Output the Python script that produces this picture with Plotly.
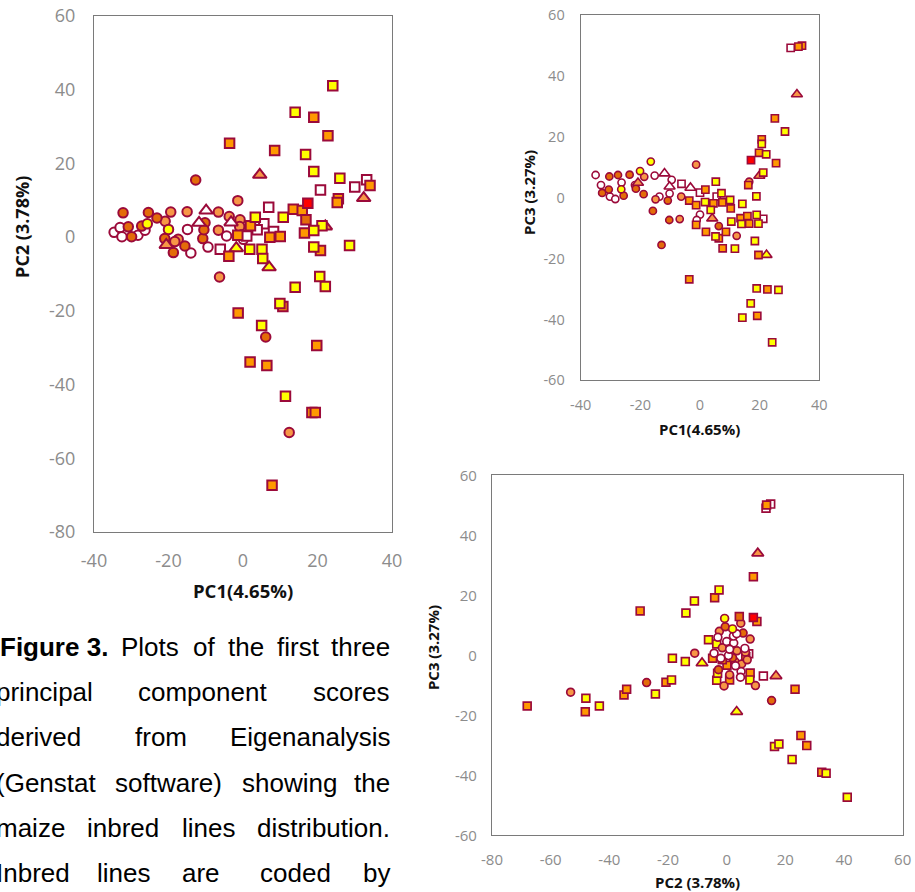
import plotly.graph_objects as go

# ---------------- DATA ----------------
# Plot 1: PC1 (x) vs PC2 (y)
p1_sq_yellow = [(24.1, 41.1), (14.0, 33.9), (16.8, 22.4), (19.0, 17.8), (26.0, 16.0), (10.8, 5.4), (3.3, 5.4),
                (21.2, 3.1), (19.0, 1.8), (1.8, -3.3), (5.1, -3.3), (5.3, -5.8), (28.6, -2.3), (19.0, -2.7),
                (20.6, -10.7), (22.1, -13.4), (14.0, -13.6), (9.9, -18.0), (5.0, -24.0), (11.4, -43.2)]
p1_sq_orange = [(-3.6, 25.5), (8.5, 23.5), (19.0, 32.5), (22.8, 27.5), (25.6, 10.4), (25.3, 9.4), (34.1, 14.0),
                (13.5, 7.6), (15.9, 7.2), (2.0, 3.1), (-1.4, 0.5), (7.2, 0.0), (10.0, 0.2), (16.5, 1.1),
                (20.8, -3.6), (-3.8, -5.2), (-1.3, -20.6), (10.7, -18.8), (1.9, -33.9), (6.4, -34.8),
                (19.8, -29.4), (18.5, -47.6), (19.4, -47.6), (7.8, -67.3)]
p1_sq_white = [(6.9, 8.1), (20.8, 12.8), (30.0, 13.6), (33.2, 15.6), (5.6, 3.6), (-6.1, -3.3), (0.6, 0.6),
               (3.8, 2.0), (8.2, 1.5), (1.0, 0.3)]
p1_sq_red = [(17.4, 9.2)]
p1_sq_dkorange = [(16.9, 4.7)]
p1_tri_orange = [(4.5, 16.9), (32.4, 10.6), (-20.6, -2.1), (22.1, 2.9)]
p1_tri_white = [(-9.9, 7.2), (-11.8, 3.9), (-3.2, 4.0)]
p1_tri_yellow = [(7.0, -8.2), (-1.8, -3.0)]
p1_ci_dark = [(-12.7, 15.5), (-32.2, 6.6), (-25.4, 6.7), (-23.1, 5.2), (-30.8, 2.8), (-29.9, 0.1), (-27.2, 3.0),
              (-21.0, -0.4), (-18.7, -4.2), (-15.6, -2.4), (-10.8, -0.4), (-10.2, 3.9), (-10.5, 2.0), (6.1, -27.1)]
p1_ci_light = [(-19.4, 6.8), (-15.0, 6.9), (-6.6, 6.8), (-1.4, 9.9), (-3.7, 5.6), (-6.6, 1.9), (-20.9, 4.3),
               (-17.4, -0.6), (-18.3, -1.2), (-6.3, -10.8), (-0.8, 4.7), (-0.9, 2.9), (12.4, -53.0)]
p1_ci_white = [(-34.6, 1.3), (-33.0, 2.6), (-32.5, 0.1), (-28.2, 0.5), (-26.3, 1.9), (-14.9, 2.1), (-14.0, -4.3),
               (-9.4, -2.7), (-4.4, 0.3), (0.1, -0.6)]
p1_ci_yellow = [(-25.7, 3.6), (-20.0, 2.1)]

# Plot 2: PC1 (x) vs PC3 (y)
p2_sq_orange = [(34.2, 50.0), (33.0, 49.7), (25.1, 26.1), (20.7, 19.2), (19.8, 14.8), (25.5, 11.4), (16.2, 4.2),
                (-3.6, -26.8), (1.8, 2.7), (-3.6, -0.9), (-1.3, -2.4), (-1.3, -8.9), (2.0, -11.2), (6.3, -13.3),
                (7.6, -16.6), (8.7, -11.2), (10.3, -3.5), (7.5, -1.5), (13.6, -6.7), (15.9, -6.0), (16.5, -8.5),
                (19.6, -18.8), (22.6, -30.1), (19.2, -38.8), (4.5, -1.8)]
p2_sq_yellow = [(28.5, 21.8), (22.2, 14.3), (21.2, 8.3), (18.9, 0.5), (5.3, 5.3), (7.2, 1.5), (10.1, -0.7),
                (14.2, -2.0), (1.7, -1.4), (3.6, -4.0), (10.5, -7.8), (19.0, -5.6), (19.6, -8.5), (13.9, -8.6),
                (11.7, -16.7), (18.4, -14.2), (19.0, -29.8), (26.3, -30.3), (17.0, -34.7), (14.2, -39.4),
                (24.2, -47.5), (5.2, -12.7), (20.7, 17.7)]
p2_sq_white = [(30.4, 49.3), (-6.2, 4.6), (0.0, 1.7), (21.2, -6.9), (5.6, 0.4)]
p2_sq_red = [(17.1, 12.4)]
p2_tri_orange = [(32.5, 34.0), (-20.8, 4.9), (4.1, -6.8), (19.9, 7.2)]
p2_tri_yellow = [(22.3, -18.8)]
p2_tri_white = [(-11.9, 8.0), (-10.2, 3.7), (-3.2, 3.3)]
p2_ci_yellow = [(-16.5, 11.9), (-20.1, 8.8), (-26.4, 2.8)]
p2_ci_light = [(-1.3, 10.9), (-6.3, 0.4), (-6.8, -7.0), (12.3, -12.5), (-18.7, 6.9), (-14.9, -0.5), (16.5, 5.3)]
p2_ci_dark = [(-12.9, -15.5), (-10.3, -7.3), (-15.8, -4.3), (-10.8, -0.9), (-23.6, 7.6), (-27.5, 7.5),
              (-30.4, 7.0), (-32.8, 1.6), (-30.6, 2.7), (-25.6, 0.7), (-18.9, 1.2), (-21.5, 3.0), (6.3, -9.3)]
p2_ci_white = [(-35.0, 7.5), (-33.2, 4.2), (-30.2, 0.4), (-28.4, -0.4), (-26.3, 5.0), (-15.2, 7.3), (-21.8, 4.2),
               (-10.2, 1.4), (-13.6, 0.4), (0.0, -5.5), (-1.1, -7.3), (-9.5, 5.9)]

# Plot 3: PC2 (x) vs PC3 (y)
p3_sq_orange = [(-68.0, -16.9), (-48.2, -18.8), (-35.0, -13.2), (-34.1, -11.3), (-29.5, 14.8), (-20.7, -9.0),
                (-4.1, 19.2), (9.1, 26.2), (13.6, 50.1), (23.3, -11.3), (25.3, -26.7), (27.3, -30.1),
                (32.4, -39.0), (10.3, 11.3), (0.1, -3.3), (1.0, -8.2), (-4.8, -1.0), (8.0, -5.9),
                (-1.5, -1.5), (6.5, -0.5)]
p3_sq_dkorange = [(4.3, 12.9)]
p3_sq_yellow = [(-48.0, -14.3), (-43.4, -16.9), (-24.3, -12.9), (-18.5, -1.0), (-18.8, -8.2), (-14.1, -2.1),
                (-13.9, 14.1), (-11.0, 18.1), (-2.6, 21.8), (-6.2, 5.2), (16.3, -30.4), (17.8, -29.6),
                (22.3, -34.7), (33.9, -39.3), (41.1, -47.3), (-3.4, -8.3), (-3.1, -6.0), (7.9, -8.2), (-3.4, 3.8)]
p3_sq_white = [(15.0, 50.4), (13.4, 49.0), (12.5, -6.9), (7.5, 0.5)]
p3_sq_red = [(9.1, 12.6)]
p3_tri_orange = [(10.6, 34.0), (16.8, -6.9)]
p3_tri_yellow = [(-8.4, -2.6), (3.4, -18.8)]
p3_ci_light = [(-53.2, -12.3), (-10.9, 0.7), (4.8, 10.7), (8.0, 5.4), (6.4, 1.0), (-0.9, -10.2), (9.8, -10.1),
               (2.8, -2.1), (5.1, -2.9), (3.5, 1.5), (-1.5, 2.5), (7.0, -1.5), (1.0, -6.5), (-2.5, 8.0)]
p3_ci_dark = [(-27.3, -9.1), (15.3, -15.1), (-2.8, -4.8), (5.6, 7.4), (2.0, -0.8), (-0.5, 9.5)]
p3_ci_yellow = [(-0.7, 12.3), (2.0, 8.8)]
p3_ci_white = [(-3.0, 6.0), (0.0, 4.6), (2.4, 4.1), (2.3, 6.4), (0.6, -0.1), (-4.3, 0.7), (4.9, -5.4),
               (4.7, -7.3), (3.4, 7.2), (6.2, 2.3), (1.0, 2.0), (-2.0, -1.0), (3.0, -3.5)]

# axis ticks
p1_xticks = [-40, -20, 0, 20, 40]
p1_yticks = [-80, -60, -40, -20, 0, 20, 40, 60]
p2_xticks = [-40, -20, 0, 20, 40]
p2_yticks = [-60, -40, -20, 0, 20, 40, 60]
p3_xticks = [-80, -60, -40, -20, 0, 20, 40, 60]
p3_yticks = [-60, -40, -20, 0, 20, 40, 60]

# caption text
caption_lines = [
    ["<b>Figure 3.</b>", "Plots", "of", "the", "first", "three"],
    ["principal", "component", "scores"],
    ["derived", "from", "Eigenanalysis"],
    ["(Genstat", "software)", "showing", "the"],
    ["maize", "inbred", "lines", "distribution."],
    ["Inbred", "lines", "are", "coded", "by"],
]

# ---------------- STYLE / LAYOUT ----------------
W, H = 915, 892
OUTLINE = "#9B0A3A"
COL = dict(white="#FFFFFF", light="#F79646", dark="#E36C09", yellow="#FFFF00",
           orange="#FF9900", dkorange="#E46C0A", red="#FF0000")


def fx(p):
    return p / W


def fy(p):
    return 1 - p / H


fig = go.Figure()


def add(pts, xa, ya, symbol, color, size, lw):
    fig.add_trace(go.Scatter(
        x=[p[0] for p in pts], y=[p[1] for p in pts], xaxis=xa, yaxis=ya,
        mode="markers", hoverinfo="skip", showlegend=False,
        marker=dict(symbol=symbol, color=COL[color], size=size,
                    line=dict(color=OUTLINE, width=lw))))


plots = [
    ("x", "y", 9.5, 2.0, [
        (p1_ci_white, "circle", "white"), (p1_ci_light, "circle", "light"), (p1_ci_dark, "circle", "dark"),
        (p1_ci_yellow, "circle", "yellow"), (p1_tri_white, "triangle-up", "white"),
        (p1_tri_orange, "triangle-up", "light"), (p1_tri_yellow, "triangle-up", "yellow"),
        (p1_sq_white, "square", "white"), (p1_sq_orange, "square", "orange"),
        (p1_sq_dkorange, "square", "dkorange"), (p1_sq_yellow, "square", "yellow"),
        (p1_sq_red, "square", "red")]),
    ("x2", "y2", 7.2, 1.6, [
        (p2_ci_white, "circle", "white"), (p2_ci_light, "circle", "light"), (p2_ci_dark, "circle", "dark"),
        (p2_ci_yellow, "circle", "yellow"), (p2_tri_white, "triangle-up", "white"),
        (p2_tri_orange, "triangle-up", "light"), (p2_tri_yellow, "triangle-up", "yellow"),
        (p2_sq_white, "square", "white"), (p2_sq_orange, "square", "orange"),
        (p2_sq_yellow, "square", "yellow"), (p2_sq_red, "square", "red")]),
    ("x3", "y3", 7.8, 1.7, [
        (p3_sq_white, "square", "white"), (p3_sq_orange, "square", "orange"),
        (p3_sq_yellow, "square", "yellow"),
        (p3_ci_light, "circle", "light"), (p3_ci_dark, "circle", "dark"),
        (p3_ci_white, "circle", "white"), (p3_ci_yellow, "circle", "yellow"),
        (p3_tri_orange, "triangle-up", "light"), (p3_tri_yellow, "triangle-up", "yellow"),
        (p3_sq_dkorange, "square", "dkorange"), (p3_sq_red, "square", "red")]),
]

for xa, ya, size, lw, groups in plots:
    for pts, sym, col in groups:
        s = size + 2.5 if sym.startswith("triangle") else size
        add(pts, xa, ya, sym, col, s, lw)


def axis(domain, rng, ticks, anchor, fsize, standoff):
    return dict(domain=domain, range=rng, tickvals=ticks, ticktext=[str(t) for t in ticks],
                anchor=anchor, automargin=False,
                showgrid=False, zeroline=False, showline=True, mirror=True,
                linecolor="#7A7A7A", linewidth=1.2, ticks="",
                ticklabelstandoff=standoff,
                tickfont=dict(family="Open Sans", size=fsize, color="#8C8C8C"),
                fixedrange=True)


fig.update_layout(
    width=W, height=H, autosize=False,
    margin=dict(l=0, r=0, t=0, b=0, pad=0, autoexpand=False),
    paper_bgcolor="white", plot_bgcolor="white",
    xaxis=axis([fx(94), fx(392)], [-40, 40], p1_xticks, "y", 18, 12),
    yaxis=axis([fy(532), fy(16)], [-80, 60], p1_yticks, "x", 18, 14),
    xaxis2=axis([fx(580.7), fx(819.3)], [-40, 40], p2_xticks, "y2", 14.5, 11),
    yaxis2=axis([fy(380.3), fy(15.3)], [-60, 60], p2_yticks, "x2", 14.5, 12),
    xaxis3=axis([fx(492), fx(902.7)], [-80, 60], p3_xticks, "y3", 15, 11),
    yaxis3=axis([fy(835.3), fy(475.3)], [-60, 60], p3_yticks, "x3", 15, 11),
)

ann = []
title_font = dict(family="Open Sans", color="#111111")
titles = [
    ("PC1(4.65%)", 242.5, 590.8, 0, 18.5),
    ("PC2 (3.78%)", 21.2, 226.7, -90, 18.0),
    ("PC1(4.65%)", 699.7, 429.0, 0, 15.0),
    ("PC3 (3.27%)", 529.0, 193.0, -90, 15.0),
    ("PC2 (3.78%)", 697.0, 882.0, 0, 15.0),
    ("PC3 (3.27%)", 432.6, 647.5, -90, 15.0),
]
for txt, x, y, ang, fs in titles:
    ann.append(dict(text="<b>" + txt + "</b>", x=fx(x), y=fy(y), xref="paper", yref="paper",
                    xanchor="center", yanchor="middle", showarrow=False, textangle=ang,
                    font=dict(size=fs, **title_font)))

# caption word placement (justified paragraph)
word_x = [
    [0, 121, 193, 228, 277, None],
    [-4, 138, None],
    [-4, 135, None],
    [-4, 115, 242, None],
    [-4, 87, 182, None],
    [-4, 97, 182, 260, None],
]
line_y = [647, 692.2, 737.4, 782.6, 827.8, 873]
cap_font = dict(family="Liberation Sans, Arial", size=26, color="#000000")
for words, xs, y in zip(caption_lines, word_x, line_y):
    for w, x in zip(words, xs):
        if x is None:
            ann.append(dict(text=w, x=fx(392), y=fy(y), xref="paper", yref="paper", xanchor="right",
                            yanchor="middle", showarrow=False, font=cap_font))
        else:
            ann.append(dict(text=w, x=fx(x - 2), y=fy(y), xref="paper", yref="paper", xanchor="left",
                            yanchor="middle", showarrow=False, font=cap_font))

fig.update_layout(annotations=ann)
fig.write_html("out.html", config={"displayModeBar": False},
               post_script="document.body.style.margin='0px';")
